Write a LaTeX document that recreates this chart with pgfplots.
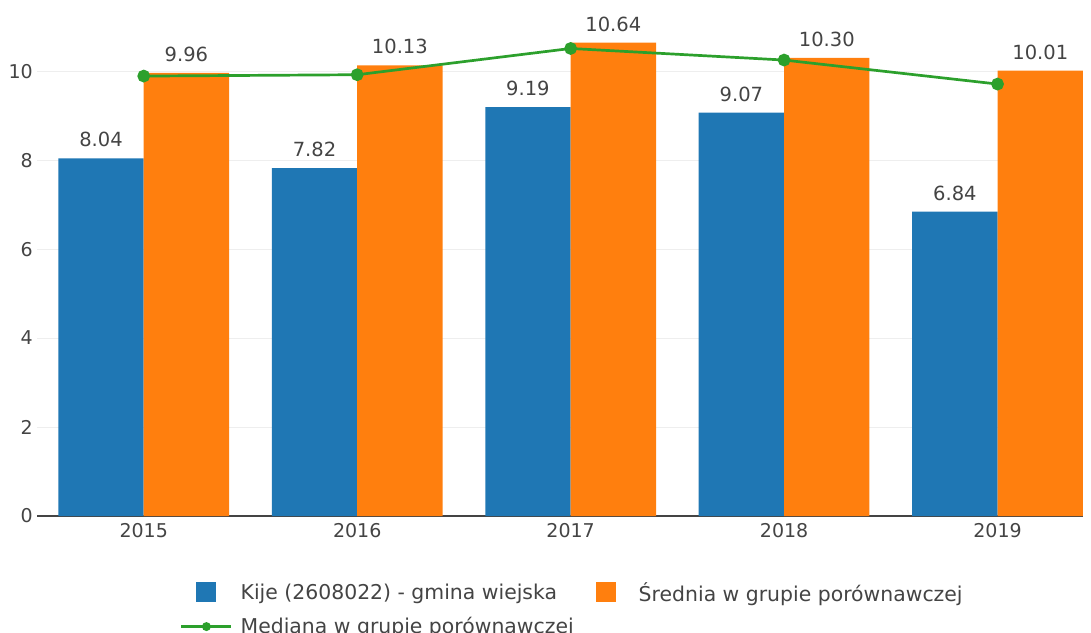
\documentclass[border=0pt]{standalone}
\usepackage{pgfplots}
\pgfplotsset{compat=1.18}
\usepackage{fontspec}
\setmainfont{DejaVu Sans}
\definecolor{cblue}{HTML}{1F77B4}
\definecolor{corange}{HTML}{FF7F0E}
\definecolor{cgreen}{HTML}{2CA02C}
\definecolor{ctext}{HTML}{444444}
\definecolor{cgrid}{HTML}{EEEEEE}
\begin{document}
\begin{tikzpicture}
\path[use as bounding box] (-37pt,-116pt) rectangle (1054pt,516pt);
\begin{axis}[
  at={(0pt,0pt)}, anchor=south west,
  scale only axis, width=1046pt, height=516pt,
  xmin=-0.5, xmax=4.4, ymin=0, ymax=11.6,
  xtick={0,1,2,3,4}, xticklabels={2015,2016,2017,2018,2019},
  ytick={0,2,4,6,8,10},
  major tick length=0pt,
  ymajorgrids, grid style={draw=cgrid, line width=1pt},
  axis x line=bottom, axis y line=left,
  x axis line style={draw=ctext, line width=1.2pt, -},
  y axis line style={draw=none},
  ticklabel style={font=\fontsize{19}{23}\selectfont, text=ctext},
  /pgf/number format/assume math mode=true,
  xticklabel style={inner sep=0pt, anchor=north, yshift=-7pt},
  yticklabel style={inner sep=0pt, anchor=east, xshift=-4pt},
  clip=false,
  legend columns=2,
  legend cell align=left,
  legend style={draw=none, fill=none, inner sep=0pt,
    at={(axis description cs:0.1367,-0.128)}, anchor=north west,
    font=\fontsize{20.4}{24}\selectfont, text=ctext, row sep=15pt,
    nodes={inner sep=0pt},
    /tikz/every odd column/.append style={column sep=8pt},
    /tikz/every even column/.append style={column sep=7pt}},
  nodes near coords style={font=\fontsize{19.5}{23}\selectfont, text=ctext, anchor=south, inner sep=0pt, yshift=11pt},
]
\addplot[ybar, bar width=0.4, bar shift=-0.2, fill=cblue, draw=none,
  point meta=explicit symbolic, nodes near coords,
  every node near coord/.append style={xshift=-42.7pt},
  legend image code/.code={\path[draw=none,fill=none] (-25pt,0pt) -- (25pt,0pt); \fill[cblue,draw=none] (-10pt,-10pt) rectangle (10pt,10pt);}]
  coordinates {(0,8.04)[8.04] (1,7.82)[7.82] (2,9.19)[9.19] (3,9.07)[9.07] (4,6.84)[6.84]};
\addlegendentry{Kije (2608022) - gmina wiejska}
\addplot[ybar, bar width=0.4, bar shift=0.2, fill=corange, draw=none,
  point meta=explicit symbolic, nodes near coords,
  every node near coord/.append style={xshift=42.7pt},
  legend image code/.code={\path[draw=none,fill=none] (-25pt,0pt) -- (25pt,0pt); \fill[corange,draw=none] (-10pt,-10pt) rectangle (10pt,10pt);}]
  coordinates {(0,9.96)[9.96] (1,10.13)[10.13] (2,10.64)[10.64] (3,10.30)[10.30] (4,10.01)[10.01]};
\addlegendentry{Średnia w grupie porównawczej}
\addplot[cgreen, line width=2.7pt, mark=*, mark size=5pt, mark options={fill=cgreen, draw=none},
  legend image code/.code={\draw[cgreen, line width=2.5pt] (-25pt,0pt) -- (25pt,0pt); \fill[cgreen,draw=none] (0pt,0pt) circle (4.5pt);}]
  coordinates {(0,9.89) (1,9.92) (2,10.51) (3,10.25) (4,9.71)};
\addlegendentry{Mediana w grupie porównawczej}
\end{axis}
\end{tikzpicture}
\end{document}
